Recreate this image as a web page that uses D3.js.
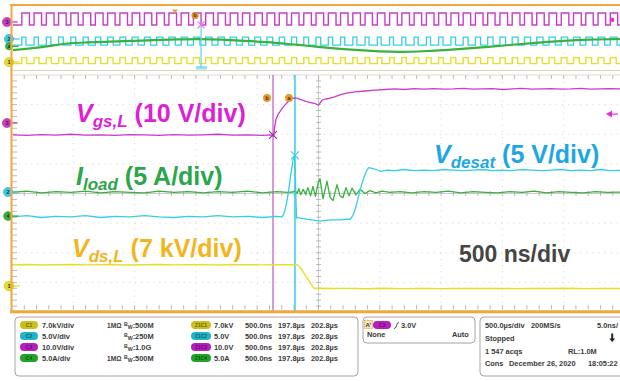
<!DOCTYPE html>
<html>
<head>
<meta charset="utf-8">
<script src="https://cdn.jsdelivr.net/npm/d3@7"></script>
<style>
  html, body { margin: 0; padding: 0; background: #ffffff; }
  svg { display: block; }
  text { font-family: "Liberation Sans", Arial, sans-serif; }
</style>
</head>
<body>
<svg id="scope" width="620" height="381"></svg>
<script>
// ---------------- Channel settings ----------------
const channelIds   = ["1", "2", "3", "4"];
const channelUnits = ["kV", "V", "V", "A"];
const channelPerDiv = [7, 5, 10, 5];            // units per division
const channelOffsetDiv = [-3.12, 0.05, 2.38, -0.76]; // ground marker position (div)

// ---------------- Zoomed acquisition (time in ns) ----------------
const vgsTrace = [
  [-2500,-4.0],[-2380,-4.2],[-2260,-3.9],[-2140,-4.1],[-2020,-3.8],[-1900,-4.1],[-1780,-4.0],
  [-1660,-4.2],[-1540,-3.9],[-1420,-4.0],[-1300,-4.2],[-1180,-3.9],[-1060,-4.1],[-940,-4.0],
  [-820,-3.8],[-700,-4.1],[-580,-4.0],[-460,-4.2],[-380,-4.0],[-366,-4.6],[-358,-1.5],
  [-347,1.2],[-330,2.9],[-314,3.8],[-295,5.0],[-273,6.1],[-252,7.0],[-232,7.8],[-212,8.2],
  [-192,8.5],[-170,8.3],[-151,8.0],[-130,7.7],[-110,7.4],[-80,7.0],[-53,6.8],[-25,6.5],
  [0,6.0],[15,6.9],[29,7.7],[60,8.1],[94,8.4],[130,8.8],[175,9.5],[230,10.1],[298,10.5],
  [380,10.8],[461,11.1],[540,11.3],[620,11.5],[700,11.3],[780,11.6],[860,11.4],[940,11.6],
  [1020,11.4],[1100,11.5],[1180,11.7],[1260,11.4],[1340,11.5],[1420,11.6],[1500,11.3],
  [1580,11.5],[1660,11.7],[1740,11.4],[1820,11.5],[1900,11.6],[1980,11.4],[2060,11.5],
  [2140,11.7],[2220,11.4],[2300,11.5],[2380,11.6],[2500,11.5]
];
const vdesatTrace = [
  [-2500,-4.2],[-2380,-4.0],[-2260,-4.3],[-2140,-4.1],[-2020,-4.2],[-1900,-4.0],[-1780,-4.3],
  [-1660,-4.1],[-1540,-4.2],[-1420,-4.0],[-1300,-4.2],[-1180,-4.3],[-1060,-4.1],[-940,-4.2],
  [-820,-4.0],[-700,-4.2],[-580,-4.1],[-460,-4.3],[-340,-4.1],[-298,-4.2],[-285,-3.8],
  [-273,-3.0],[-260,-1.8],[-249,-0.5],[-232,2.0],[-220,3.8],[-208,5.4],[-196,6.2],[-188,2.0],
  [-184,-1.4],[-179,-4.4],[-165,-4.3],[-151,-4.4],[-120,-4.5],[-90,-4.6],[-53,-4.7],[-20,-4.8],
  [12,-4.9],[60,-4.8],[110,-4.7],[175,-4.7],[220,-4.6],[257,-4.6],[280,-4.0],[298,-3.0],
  [318,-1.4],[339,0.3],[360,1.8],[379,2.9],[395,3.7],[410,4.1],[436,4.0],[470,3.8],[502,3.5],
  [560,3.7],[620,3.6],[700,3.8],[780,3.6],[860,3.7],[940,3.6],[1020,3.8],[1100,3.7],[1180,3.6],
  [1260,3.7],[1340,3.8],[1420,3.6],[1500,3.7],[1580,3.6],[1660,3.8],[1740,3.7],[1820,3.6],
  [1900,3.7],[1980,3.8],[2060,3.6],[2140,3.7],[2220,3.6],[2300,3.8],[2380,3.6],[2500,3.7]
];
const iloadTrace = [
  [-2500,4.0],[-2380,4.2],[-2260,3.9],[-2140,4.1],[-2020,4.0],[-1900,4.2],[-1780,3.9],
  [-1660,4.1],[-1540,4.0],[-1420,3.9],[-1300,4.2],[-1180,4.0],[-1060,4.1],[-940,3.9],
  [-820,4.1],[-700,4.0],[-580,4.2],[-460,3.9],[-340,4.1],[-250,4.0],[-208,4.05],[-190,4.3],
  [-175,3.8],[-160,4.6],[-145,3.6],[-125,4.5],[-105,3.7],[-86,4.8],[-65,3.4],[-45,5.0],
  [-25,3.3],[-5,5.4],[12,6.3],[37,2.9],[69,5.9],[94,3.2],[118,2.6],[151,5.3],[175,3.4],
  [200,3.1],[224,4.8],[249,3.4],[273,4.7],[306,3.6],[339,4.5],[379,3.8],[420,4.3],[469,3.9],
  [518,4.2],[583,4.0],[665,4.1],[760,3.9],[860,4.1],[960,4.0],[1060,4.2],[1160,3.9],[1260,4.1],
  [1360,4.0],[1460,3.9],[1560,4.1],[1660,4.0],[1760,4.2],[1860,3.9],[1960,4.1],[2060,4.0],
  [2160,3.9],[2260,4.1],[2360,4.0],[2500,4.05]
];
const vdsTrace = [
  [-2500,5.0],[-2380,5.05],[-2260,4.95],[-2140,5.0],[-2020,5.05],[-1900,4.97],[-1780,5.0],
  [-1660,5.04],[-1540,4.96],[-1420,5.0],[-1300,5.05],[-1180,4.98],[-1060,5.0],[-940,5.04],
  [-820,4.96],[-700,5.0],[-580,5.03],[-460,4.97],[-340,5.0],[-240,5.04],[-175,5.0],[-160,4.7],
  [-140,4.0],[-120,3.1],[-100,2.2],[-80,1.3],[-60,0.4],[-45,-0.3],[-30,-0.6],[0,-0.55],
  [100,-0.62],[200,-0.58],[300,-0.6],[400,-0.65],[500,-0.56],[600,-0.6],[700,-0.63],[800,-0.57],
  [900,-0.6],[1000,-0.64],[1100,-0.58],[1200,-0.6],[1300,-0.62],[1400,-0.57],[1500,-0.6],
  [1600,-0.64],[1700,-0.58],[1800,-0.6],[1900,-0.62],[2000,-0.56],[2100,-0.6],[2200,-0.63],
  [2300,-0.58],[2400,-0.6],[2500,-0.61]
];

// Cursors (ns) and the trace values they sit on
const cursorTimes  = [-371, -192];
const cursorValues = [-4.0, 6.2];      // Vgs at cursor b, Vdesat at cursor a
const cursorNames  = ["b", "a"];
const triggerLevel = 3.0;              // V on channel 3

// ---------------- Overview record (time in µs) ----------------
const pulseStarts = [80,180,280,380,480,580,680,780,880,980,1080,1180,1280,1380,1480,1580,
  1680,1780,1880,1980,2080,2180,2280,2380,2480,2580,2680,2780,2880,2980,3080,3180,3280,3380,
  3480,3580,3680,3780,3880,3980,4080,4180,4280,4380,4480,4580,4680,4780,4880,4980];
const gateDuty  = [0.62,0.61,0.63,0.62,0.60,0.62,0.63,0.61,0.62,0.62,0.60,0.63,0.62,0.61,0.62,
  0.63,0.61,0.62,0.60,0.62,0.63,0.62,0.61,0.62,0.62,0.63,0.61,0.62,0.60,0.62,0.63,0.62,0.61,
  0.62,0.62,0.63,0.61,0.62,0.60,0.62,0.63,0.62,0.61,0.62,0.62,0.63,0.61,0.62,0.60,0.62];
const desatDuty = [0.34,0.35,0.37,0.38,0.40,0.42,0.44,0.46,0.47,0.49,0.50,0.51,0.52,0.52,0.53,
  0.52,0.52,0.51,0.50,0.48,0.46,0.44,0.42,0.40,0.38,0.36,0.34,0.33,0.32,0.31,0.31,0.32,0.33,
  0.34,0.36,0.38,0.40,0.42,0.44,0.46,0.48,0.50,0.51,0.52,0.53,0.54,0.54,0.55,0.55,0.55];
const vdsDuty   = [0.40,0.40,0.41,0.42,0.42,0.43,0.44,0.45,0.45,0.46,0.46,0.47,0.47,0.47,0.48,
  0.47,0.47,0.46,0.46,0.45,0.44,0.43,0.42,0.41,0.40,0.39,0.38,0.38,0.37,0.37,0.37,0.37,0.38,
  0.38,0.39,0.40,0.41,0.42,0.43,0.44,0.45,0.46,0.46,0.47,0.47,0.48,0.48,0.48,0.48,0.48];
const gateLevels  = [-4.1, 12.4];   // V
const desatLevels = [-4.2, 1.3];    // V
const vdsLevels   = [-1.6, 4.2];    // kV
const loadCurrentOverview = [
  [0,-3.6],[150,-2.6],[300,-1.0],[450,1.2],[600,1.6],[800,2.2],[987,2.6],[1150,3.3],
  [1350,3.7],[1533,4.0],[1700,3.6],[1900,2.8],[2080,1.9],[2250,0.6],[2431,-0.8],[2600,-2.2],
  [2800,-3.6],[3000,-4.6],[3165,-4.9],[3350,-4.5],[3550,-3.6],[3800,-2.0],[4062,-0.1],
  [4300,1.6],[4500,2.8],[4700,3.6],[4959,4.0],[5000,4.1]
];
const zoomCursorUs = 1542;

// ---------------- Status panel text ----------------
const chanScaleText = ["7.0kV/div", "5.0V/div", "10.0V/div", "5.0A/div"];
const chanImpedance = ["1MΩ", "", "", "1MΩ"];
const chanBandwidth = ["500M", "250M", "1.0G", "500M"];
const zoomScaleText = ["7.0kV", "5.0V", "10.0V", "5.0A"];
const zoomTimeText = ["500.0ns", "197.8µs", "202.8µs"];

// ---------------- Styling ----------------
const traceColors = { "1": "#e6df2a", "2": "#34cfe4", "3": "#c93cc9", "4": "#39b23c" };
const pillColors  = { "1": "#c9c01e", "2": "#1fb5c6", "3": "#b51fc0", "4": "#22a22a" };
const orange = "#f3a63b";

const svg = d3.select("#scope");

// ---------- Scales ----------
const x = d3.scaleLinear().domain([-2500, 2500]).range([12, 625]);
const yDiv = d3.scaleLinear().domain([-4, 4]).range([312, 75]);
const chanY = (ci, v) => yDiv(channelOffsetDiv[ci] + v / channelPerDiv[ci]);

const xo = d3.scaleLinear().domain([0, 5000]).range([12, 625]);
const yoDiv = d3.scaleLinear().domain([-4, 4]).range([68.4, 10.2]);
const chanYo = (ci, v) => yoDiv(channelOffsetDiv[ci] + v / channelPerDiv[ci]);

svg.append("defs").append("clipPath").attr("id", "plotClip")
  .append("rect").attr("x", 13).attr("y", 76).attr("width", 607).attr("height", 234);
svg.select("defs").append("clipPath").attr("id", "ovClip")
  .append("rect").attr("x", 13).attr("y", 7).attr("width", 607).attr("height", 63);

// ---------- Overview panel ----------
const ov = svg.append("g");
const ovGrid = ov.append("g").attr("stroke", "#d9d9d9").attr("stroke-width", 0.6)
  .attr("stroke-dasharray", "1,4");
d3.range(1, 10).forEach(k => {
  const gx = xo(k * 500);
  ovGrid.append("line").attr("x1", gx).attr("x2", gx).attr("y1", 8).attr("y2", 70);
});
ov.append("line").attr("x1", 12).attr("x2", 620).attr("y1", 70.5).attr("y2", 70.5)
  .attr("stroke", "#e2d2b8").attr("stroke-width", 1);

function pulseTrain(duty, levels) {
  const pts = [[0, levels[0]]];
  pulseStarts.forEach((s, i) => {
    pts.push([s, levels[1]]);
    pts.push([s + duty[i] * 100, levels[0]]);
  });
  pts.push([5000, levels[0]]);
  return pts;
}
const ovLine = ci => d3.line().x(d => xo(d[0])).y(d => chanYo(ci, d[1])).curve(d3.curveStepAfter);
const ovG = ov.append("g").attr("clip-path", "url(#ovClip)").attr("fill", "none");
ovG.append("path").attr("d", ovLine(2)(pulseTrain(gateDuty, gateLevels)))
  .attr("stroke", traceColors["3"]).attr("stroke-width", 1.4);
ovG.append("path").attr("d", ovLine(1)(pulseTrain(desatDuty, desatLevels)))
  .attr("stroke", traceColors["2"]).attr("stroke-width", 1.3);
ovG.append("path").attr("d", ovLine(0)(pulseTrain(vdsDuty, vdsLevels)))
  .attr("stroke", traceColors["1"]).attr("stroke-width", 1.4);
ovG.append("path")
  .attr("d", d3.line().x(d => xo(d[0])).y(d => chanYo(3, d[1])).curve(d3.curveBasis)(loadCurrentOverview))
  .attr("stroke", traceColors["4"]).attr("stroke-width", 2.2);

// zoom position marker in the overview
const zx = xo(zoomCursorUs);
ov.append("rect").attr("x", zx - 5).attr("y", 66).attr("width", 11).attr("height", 3.5)
  .attr("fill", "#8fe3f0");
ov.append("line").attr("x1", zx).attr("x2", zx).attr("y1", 25).attr("y2", 68)
  .attr("stroke", "#5fd3ea").attr("stroke-width", 1.2);
const xMark = (g, cx, cy, col, s) => {
  g.append("path").attr("d", `M${cx - s},${cy - s}L${cx + s},${cy + s}M${cx - s},${cy + s}L${cx + s},${cy - s}`)
    .attr("stroke", col).attr("stroke-width", 1.1).attr("fill", "none");
};
xMark(ov, zx, chanYo(2, gateLevels[0]), "#e86ee8", 3.5);
ov.append("path").attr("d", `M${zx - 29},9.5 l6,0 l-3,4z`).attr("fill", "#e8a235");
ov.append("circle").attr("cx", zx - 6).attr("cy", 15.5).attr("r", 3.6).attr("fill", "#d9912c");
ov.append("text").attr("x", zx - 6).attr("y", 17.4).attr("text-anchor", "middle")
  .attr("font-size", 5).attr("font-weight", "bold").attr("fill", "#5a3310").text("b");
ov.append("rect").attr("x", 610).attr("y", chanYo(2, triggerLevel) - 2).attr("width", 4).attr("height", 4)
  .attr("fill", "#e030d0");

// ---------- Main graticule ----------
const grid = svg.append("g");
const gridDots = grid.append("g").attr("stroke", "#c9c9c9").attr("stroke-width", 0.8)
  .attr("stroke-dasharray", "1,5.1");
d3.range(-4, 6).forEach(k => {
  if (k === 0) return;
  const gx = x(k * 500);
  gridDots.append("line").attr("x1", gx).attr("x2", gx).attr("y1", 76).attr("y2", 310);
});
d3.range(-3, 4).forEach(k => {
  if (k === 0) return;
  const gy = yDiv(k);
  gridDots.append("line").attr("x1", 13).attr("x2", 620).attr("y1", gy).attr("y2", gy);
});
// centre axes with minor ticks
const ticks = grid.append("g").attr("stroke", "#a9a9a9").attr("stroke-width", 0.8);
const cx0 = x(0), cy0 = yDiv(0);
ticks.append("line").attr("x1", cx0).attr("x2", cx0).attr("y1", 76).attr("y2", 310).attr("stroke", "#bdbdbd");
ticks.append("line").attr("x1", 13).attr("x2", 620).attr("y1", cy0).attr("y2", cy0).attr("stroke", "#bdbdbd");
d3.range(-20, 21).forEach(k => {
  const ty = yDiv(k / 5);
  if (ty < 76 || ty > 310) return;
  ticks.append("line").attr("x1", cx0 - 2.5).attr("x2", cx0 + 2.5).attr("y1", ty).attr("y2", ty);
  ticks.append("line").attr("x1", 12).attr("x2", 17).attr("y1", ty).attr("y2", ty);
});
d3.range(-25, 26).forEach(k => {
  const tx = x(k * 100);
  if (tx < 13 || tx > 620) return;
  ticks.append("line").attr("x1", tx).attr("x2", tx).attr("y1", cy0 - 2.5).attr("y2", cy0 + 2.5);
  ticks.append("line").attr("x1", tx).attr("x2", tx).attr("y1", 75).attr("y2", 79);
  ticks.append("line").attr("x1", tx).attr("x2", tx).attr("y1", 305).attr("y2", 309.5);
});
grid.append("line").attr("x1", 12).attr("x2", 620).attr("y1", 75).attr("y2", 75)
  .attr("stroke", "#d2d2d2").attr("stroke-width", 0.8);

// ---------- Cursors ----------
const cursorCols = ["#b944c8", "#40d0e8"];
cursorTimes.forEach((t, i) => {
  svg.append("line").attr("x1", x(t)).attr("x2", x(t)).attr("y1", 75).attr("y2", 311)
    .attr("stroke", cursorCols[i]).attr("stroke-width", i === 1 ? 1.6 : 1.1);
});

// ---------- Traces ----------
const traceG = svg.append("g").attr("clip-path", "url(#plotClip)").attr("fill", "none")
  .attr("stroke-linejoin", "round");
const mainLine = ci => d3.line().x(d => x(d[0])).y(d => chanY(ci, d[1]));
traceG.append("path").attr("d", mainLine(0)(vdsTrace)).attr("stroke", traceColors["1"]).attr("stroke-width", 1.4);
traceG.append("path").attr("d", mainLine(3)(iloadTrace)).attr("stroke", traceColors["4"]).attr("stroke-width", 1.3);
traceG.append("path").attr("d", mainLine(1)(vdesatTrace)).attr("stroke", traceColors["2"]).attr("stroke-width", 1.3);
traceG.append("path").attr("d", mainLine(2)(vgsTrace)).attr("stroke", traceColors["3"]).attr("stroke-width", 1.3);

// cursor crossings
xMark(svg, x(cursorTimes[0]), chanY(2, cursorValues[0]), "#a3279f", 4);
xMark(svg, x(cursorTimes[1]), chanY(1, cursorValues[1]), "#3ccbe6", 4);
cursorTimes.forEach((t, i) => {
  const mx = x(t) - 6, my = 98;
  svg.append("circle").attr("cx", mx).attr("cy", my).attr("r", 4).attr("fill", "#e89a2e");
  svg.append("text").attr("x", mx).attr("y", my + 2).attr("text-anchor", "middle")
    .attr("font-size", 5.5).attr("font-weight", "bold").attr("fill", "#4a2a08").text(cursorNames[i]);
});

// trigger level indicator on the right edge
const trigY = chanY(2, triggerLevel);
svg.append("path").attr("d", `M606,${trigY} l6,-3.5 l0,7z`).attr("fill", "#e030d0");
svg.append("line").attr("x1", 612).attr("x2", 618).attr("y1", trigY).attr("y2", trigY)
  .attr("stroke", "#e030d0").attr("stroke-width", 1.2);

// ---------- Channel ground markers ----------
function chanMarker(cx, cy, id, r) {
  const g = svg.append("g");
  g.append("line").attr("x1", cx).attr("x2", cx + r + 6).attr("y1", cy).attr("y2", cy)
    .attr("stroke", traceColors[id]).attr("stroke-width", 1.3);
  g.append("circle").attr("cx", cx).attr("cy", cy).attr("r", r).attr("fill", traceColors[id])
    .attr("stroke", d3.color(traceColors[id]).darker(0.5)).attr("stroke-width", 0.6);
  g.append("text").attr("x", cx).attr("y", cy + r * 0.42).attr("text-anchor", "middle")
    .attr("font-size", r * 1.2).attr("font-weight", "bold").attr("fill", "#2a2a2a").text(id);
}
chanMarker(7, chanY(2, 0), "3", 4.6);
chanMarker(8, chanY(1, 0), "2", 4.6);
chanMarker(8, chanY(3, 0), "4", 4.4);
chanMarker(9, chanY(0, 0), "1", 4.8);
chanMarker(7, chanYo(2, 0), "3", 4.6);
chanMarker(9, chanYo(1, 0), "2", 4.6);
chanMarker(9, chanYo(3, 0) + 1.5, "4", 3.6);
chanMarker(9, chanYo(0, 0), "1", 4.6);

// ---------- Frame ----------
svg.append("line").attr("x1", 10).attr("x2", 620).attr("y1", 5).attr("y2", 5)
  .attr("stroke", orange).attr("stroke-width", 2);
svg.append("line").attr("x1", 11.5).attr("x2", 11.5).attr("y1", 4).attr("y2", 313)
  .attr("stroke", orange).attr("stroke-width", 2);
svg.append("line").attr("x1", 10).attr("x2", 620).attr("y1", 311.8).attr("y2", 311.8)
  .attr("stroke", orange).attr("stroke-width", 3);

// ---------- Annotations ----------
function sigLabel(px, py, col, main, sub, rest) {
  const t = svg.append("text").attr("x", px).attr("y", py).attr("fill", col)
    .attr("font-size", 25).attr("font-weight", "bold");
  t.append("tspan").attr("font-style", "italic").text(main);
  t.append("tspan").attr("font-style", "italic").attr("font-size", 17).attr("dy", 5).text(sub);
  t.append("tspan").attr("dy", -5).text(rest);
}
sigLabel(76, 122, "#dd1fd6", "V", "gs,L", " (10 V/div)");
sigLabel(76, 185, "#2ba64a", "I", "load", " (5 A/div)");
sigLabel(434, 163, "#1ea7e2", "V", "desat", " (5 V/div)");
sigLabel(72, 257, "#f2b51d", "V", "ds,L", " (7 kV/div)");
svg.append("text").attr("x", 459).attr("y", 262).attr("font-size", 23).attr("font-weight", "bold")
  .attr("fill", "#454545").text("500 ns/div");

// ---------- Status panel ----------
const info = svg.append("g").attr("font-size", 7.4).attr("font-weight", "bold").attr("fill", "#3a3a3a");
const box = (bx, by, bw, bh) => info.append("rect").attr("x", bx).attr("y", by).attr("width", bw)
  .attr("height", bh).attr("rx", 4).attr("fill", "#ffffff").attr("stroke", "#9a9a9a").attr("stroke-width", 0.9);
box(15, 317, 343, 59);
box(363, 317, 112, 26);
box(480, 317, 145, 59);

function pill(px, py, w, id, label) {
  const c = pillColors[id];
  info.append("rect").attr("x", px).attr("y", py - 4).attr("width", w).attr("height", 8).attr("rx", 4)
    .attr("fill", c);
  info.append("text").attr("x", px + w / 2).attr("y", py + 1.8).attr("text-anchor", "middle")
    .attr("font-size", 5).attr("fill", d3.color(c).darker(1.8)).text(label);
}
const rowY = [325, 336, 347, 358];
channelIds.forEach((id, i) => {
  const ry = rowY[i];
  pill(20, ry, 18, id, "C" + id);
  info.append("text").attr("x", 42).attr("y", ry + 2.6).text(chanScaleText[i]);
  if (chanImpedance[i]) info.append("text").attr("x", 107).attr("y", ry + 2.6)
    .attr("font-size", 6.6).text(chanImpedance[i]);
  const bw = info.append("text").attr("x", 124).attr("y", ry + 2.6);
  bw.append("tspan").attr("font-size", 5.2).attr("dy", -1.5).text("B");
  bw.append("tspan").attr("font-size", 5.2).attr("dy", 2.5).text("W");
  bw.append("tspan").attr("dy", -1).text(":" + chanBandwidth[i]);
  pill(191, ry, 20, id, "Z1C" + id);
  info.append("text").attr("x", 214).attr("y", ry + 2.6).text(zoomScaleText[i]);
  info.append("text").attr("x", 245).attr("y", ry + 2.6).text(zoomTimeText[0]);
  info.append("text").attr("x", 278).attr("y", ry + 2.6).text(zoomTimeText[1]);
  info.append("text").attr("x", 311).attr("y", ry + 2.6).text(zoomTimeText[2]);
});

// trigger box
info.append("rect").attr("x", 364.5).attr("y", 320.5).attr("width", 8).attr("height", 8)
  .attr("fill", "#f7e2c0").attr("stroke", "#e0a550").attr("stroke-width", 0.6);
info.append("text").attr("x", 365.5).attr("y", 327).attr("font-size", 6).text("A'");
pill(373, 325, 18, "3", "C3");
info.append("path").attr("d", "M394,328.5 q2,0 2.5,-3 q0.5,-3 2.5,-3").attr("fill", "none")
  .attr("stroke", "#333").attr("stroke-width", 0.9);
info.append("text").attr("x", 401).attr("y", 327.6).text("3.0V");
info.append("text").attr("x", 367).attr("y", 336.6).text("None");
info.append("text").attr("x", 452).attr("y", 336.6).text("Auto");

// acquisition box
const acqRows = [327.6, 340.6, 353.6, 366];
info.append("text").attr("x", 485).attr("y", acqRows[0]).text("500.0µs/div");
info.append("text").attr("x", 531).attr("y", acqRows[0]).text("200MS/s");
info.append("text").attr("x", 597).attr("y", acqRows[0]).text("5.0ns/");
info.append("text").attr("x", 485).attr("y", acqRows[1]).text("Stopped");
info.append("path").attr("d", "M611.2,333.5 l0,5 l-2,0 l3,3.5 l3,-3.5 l-2,0 l0,-5z").attr("fill", "#222");
info.append("text").attr("x", 485).attr("y", acqRows[2]).text("1 547 acqs");
info.append("text").attr("x", 568).attr("y", acqRows[2]).text("RL:1.0M");
info.append("text").attr("x", 485).attr("y", acqRows[3]).text("Cons");
info.append("text").attr("x", 509).attr("y", acqRows[3]).text("December 26, 2020");
info.append("text").attr("x", 588).attr("y", acqRows[3]).text("18:05:22");
</script>
</body>
</html>
